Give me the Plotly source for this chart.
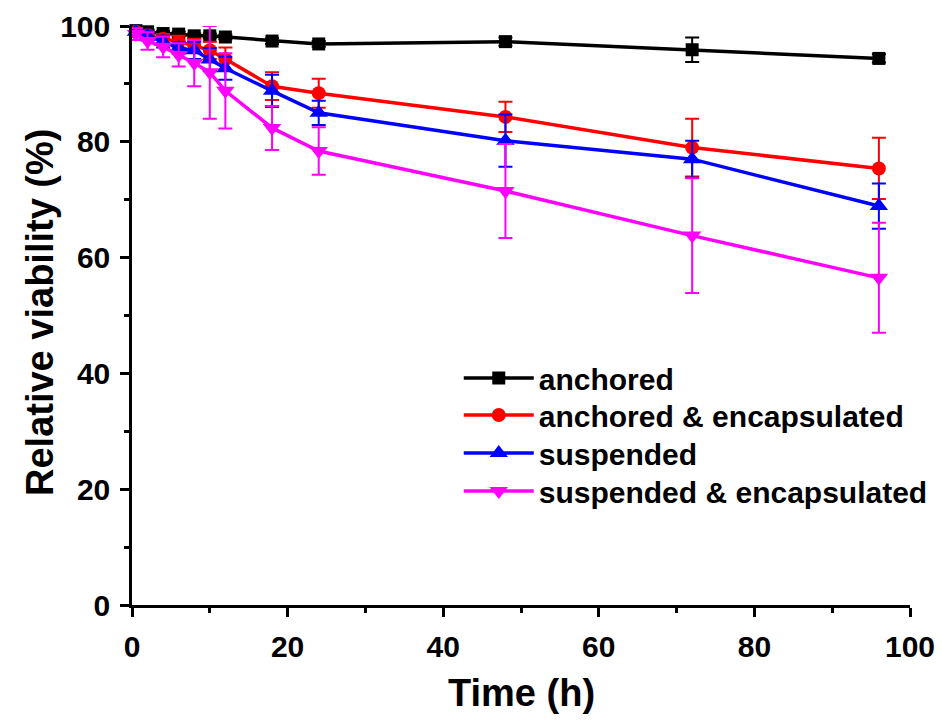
import plotly.graph_objects as go

time_h = [0.5, 2, 4, 6, 8, 10, 12, 18, 24, 48, 72, 96]

anchored = [99.2, 99.0, 98.7, 98.6, 98.3, 98.3, 98.1, 97.4, 96.9, 97.3, 95.9, 94.4]
anchored_err = [0.4, 0.4, 0.4, 0.4, 0.4, 0.4, 0.4, 0.5, 0.5, 0.7, 2.1, 0.7]

anch_enc = [99.0, 98.4, 97.8, 97.3, 96.6, 95.8, 94.3, 89.6, 88.4, 84.3, 79.0, 75.4]
anch_enc_err = [0.6, 0.8, 0.8, 1.0, 1.2, 1.5, 2.0, 2.4, 2.5, 2.6, 5.0, 5.3]

suspended = [99.0, 98.3, 97.3, 96.2, 95.8, 94.2, 92.7, 88.8, 85.0, 80.2, 77.0, 68.9]
suspended_err = [0.6, 0.8, 1.0, 1.0, 1.5, 2.0, 2.0, 2.8, 2.1, 4.5, 3.2, 3.9]

susp_enc = [98.6, 97.4, 96.4, 95.0, 93.6, 92.0, 88.8, 82.4, 78.4, 71.5, 63.8, 56.5]
susp_enc_err = [1.0, 1.5, 1.8, 2.0, 4.0, 8.0, 6.5, 3.8, 4.1, 8.1, 9.9, 9.5]

names = ["anchored", "anchored & encapsulated", "suspended", "suspended & encapsulated"]
colors = ["#000000", "#FF0000", "#0000FF", "#FF00FF"]
symbols = ["square", "circle", "triangle-up", "triangle-down"]
marker_sizes = [13, 14, 16, 16]
series = [anchored, anch_enc, suspended, susp_enc]
errors = [anchored_err, anch_enc_err, suspended_err, susp_enc_err]

x_title = "Time (h)"
y_title = "Relative viability (%)"

font_family = "Liberation Sans, Arial, sans-serif"
L, T, W, H = 124, 18, 778, 579

legend_ids = ["legend", "legend2", "legend3", "legend4"]
legend_centers_px = [370, 407, 445, 483]  # figure pixel rows of legend entries

fig = go.Figure()
for i, (nm, col, sym, ms, ys, es) in enumerate(zip(names, colors, symbols, marker_sizes, series, errors)):
    fig.add_trace(go.Scatter(
        x=time_h, y=ys, name=nm, mode="lines+markers",
        line=dict(color=col, width=3.5),
        marker=dict(symbol=sym, size=ms, color=col),
        error_y=dict(type="data", array=es, visible=True, color=col, thickness=2, width=7),
        cliponaxis=False, legend=legend_ids[i],
    ))

legend_layout = {}
for lid, cy in zip(legend_ids, legend_centers_px):
    legend_layout[lid] = dict(
        x=0.42, y=(T + H - cy) / H, xanchor="left", yanchor="middle",
        bgcolor="rgba(0,0,0,0)",
        font=dict(family=font_family, size=30, color="black", weight="bold"),
        itemwidth=70,
    )

fig.update_layout(
    width=942, height=722,
    margin=dict(l=L, r=942 - L - W, t=T, b=722 - T - H, autoexpand=False),
    paper_bgcolor="white", plot_bgcolor="white",
    font=dict(family=font_family, color="black", size=22),
    showlegend=True,
    xaxis=dict(
        range=[0, 100], dtick=20, tick0=0,
        showline=True, linecolor="black", linewidth=2.5,
        ticks="outside", ticklen=9, tickwidth=2.5, tickcolor="black",
        minor=dict(ticks="outside", ticklen=5, tickwidth=2.5, dtick=10, tickcolor="black"),
        showgrid=False, zeroline=False, ticklabelstandoff=4,
        tickfont=dict(size=30, family=font_family, weight="bold"),
    ),
    yaxis=dict(
        range=[0, 100], dtick=20, tick0=0,
        showline=True, linecolor="black", linewidth=2.5,
        ticks="outside", ticklen=9, tickwidth=2.5, tickcolor="black",
        minor=dict(ticks="outside", ticklen=5, tickwidth=2.5, dtick=10, tickcolor="black"),
        showgrid=False, zeroline=False, ticklabelstandoff=4,
        tickfont=dict(size=30, family=font_family, weight="bold"),
    ),
    annotations=[
        dict(text=x_title, xref="paper", yref="paper", x=(521 - 8 - L) / W, y=-(685 - T - H) / H,
             xanchor="center", yanchor="middle", showarrow=False,
             font=dict(size=38, family=font_family, weight="bold", color="black")),
        dict(text=y_title, xref="paper", yref="paper", x=-(L - 32) / W, y=(T + H - (313 - 8)) / H,
             xanchor="center", yanchor="middle", showarrow=False, textangle=-90,
             font=dict(size=38, family=font_family, weight="bold", color="black")),
    ],
    **legend_layout,
)

fig.write_html("out.html")
